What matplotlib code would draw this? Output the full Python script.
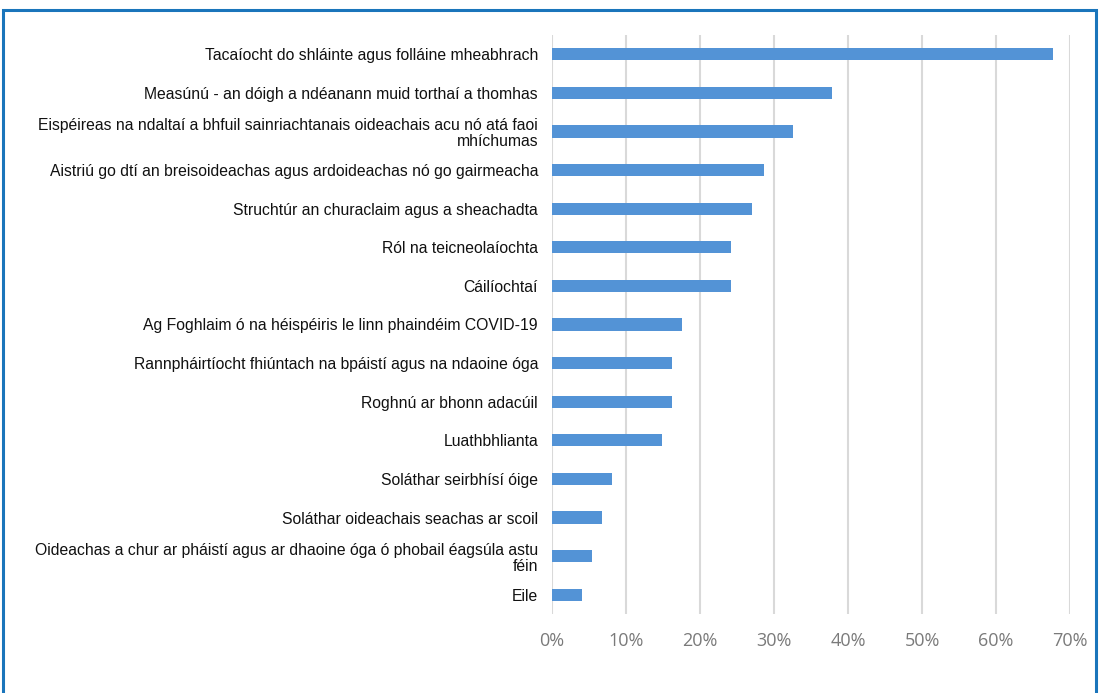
import matplotlib.pyplot as plt
from matplotlib.ticker import PercentFormatter
from matplotlib.patches import Rectangle

labels = [
    "Tacaíocht do shláinte agus folláine mheabhrach",
    "Measúnú - an dóigh a ndéanann muid torthaí a thomhas",
    "Eispéireas na ndaltaí a bhfuil sainriachtanais oideachais acu nó atá faoi\nmhíchumas",
    "Aistriú go dtí an breisoideachas agus ardoideachas nó go gairmeacha",
    "Struchtúr an churaclaim agus a sheachadta",
    "Ról na teicneolaíochta",
    "Cáilíochtaí",
    "Ag Foghlaim ó na héispéiris le linn phaindéim COVID-19",
    "Rannpháirtíocht fhiúntach na bpáistí agus na ndaoine óga",
    "Roghnú ar bhonn adacúil",
    "Luathbhlianta",
    "Soláthar seirbhísí óige",
    "Soláthar oideachais seachas ar scoil",
    "Oideachas a chur ar pháistí agus ar dhaoine óga ó phobail éagsúla astu\nféin",
    "Eile",
]
values = [67.7, 37.8, 32.6, 28.6, 27.0, 24.2, 24.2, 17.6, 16.2, 16.2, 14.8, 8.1, 6.8, 5.4, 4.1]
xticks = [0, 10, 20, 30, 40, 50, 60, 70]

fig = plt.figure(figsize=(10.99, 6.93), dpi=100)
W, H = 1099, 693

# blue frame round the figure (bottom edge runs off the picture)
fig.patches.append(Rectangle((3 / W, -0.05), 1093 / W, 683 / H + 0.05, transform=fig.transFigure,
                             fill=False, edgecolor='#1a75bb', linewidth=2.2))

ax = fig.add_axes([552 / W, 1 - 614 / H, (1070 - 552) / W, (614 - 35) / H])
pos = list(range(len(labels)))
ax.barh(pos, values, height=0.32, color='#5393d6', zorder=3)
ax.set_ylim(len(labels) - 0.5, -0.5)
ax.set_xlim(0, 70)
ax.set_xticks(xticks)
ax.xaxis.set_major_formatter(PercentFormatter(decimals=0))
ax.set_yticks(pos)
ax.set_yticklabels(labels, fontsize=11.35, family='Liberation Sans', color='#111111',
                   multialignment='right', linespacing=1.1)
ax.tick_params(axis='y', length=0, pad=10)
ax.tick_params(axis='x', length=0, pad=13, labelcolor='#7a7a7a', labelsize=13)
for t in ax.get_xticklabels():
    t.set_family('Open Sans')
ax.grid(axis='x', color='#d9d9d9', linewidth=1.5, zorder=0)
for s in ax.spines.values():
    s.set_visible(False)

fig.savefig('out.png', dpi=100)
